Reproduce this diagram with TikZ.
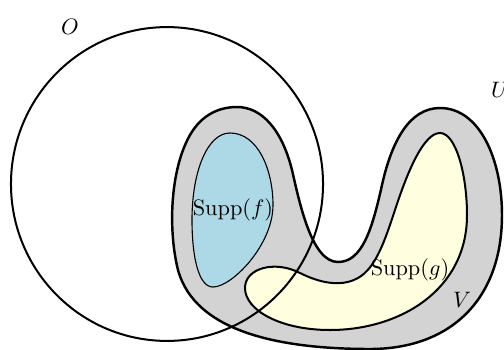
\documentclass[tikz,border=0pt]{standalone}
\usepackage{amsmath}
\usepackage{amssymb}
\usepackage{tikz}

\definecolor{vgray}{RGB}{211,211,211}
\definecolor{fblue}{RGB}{173,216,230}
\definecolor{gyellow}{RGB}{255,255,224}

\begin{document}
\begin{tikzpicture}[x=0.448pt,y=-0.448pt]
                \useasboundingbox (0,0) rectangle (504,349);
                % the set V
                \draw[line width=1.1pt, fill=vgray] (237,107)
                        .. controls (262,107) and (282,130) .. (292,170)
                        .. controls (300,205) and (312,262) .. (338,262)
                        .. controls (362,262) and (372,230) .. (382,185)
                        .. controls (392,140) and (410,108) .. (440,108)
                        .. controls (480,108) and (502,160) .. (502,215)
                        .. controls (502,300) and (450,349) .. (370,349)
                        .. controls (280,349) and (195,332) .. (178,270)
                        .. controls (168,230) and (170,170) .. (190,135)
                        .. controls (202,114) and (220,107) .. (237,107) -- cycle;
                % supports
                \draw[line width=0.5pt, fill=fblue] (230,133)
                        .. controls (258,133) and (273,170) .. (273,205)
                        .. controls (273,245) and (232,287) .. (213,287)
                        .. controls (198,287) and (192,255) .. (192,220)
                        .. controls (192,170) and (208,133) .. (230,133) -- cycle;
                \draw[line width=0.9pt, fill=gyellow] (440,133)
                        .. controls (456,133) and (467,175) .. (467,215)
                        .. controls (467,290) and (400,330) .. (330,330)
                        .. controls (280,330) and (245,310) .. (245,288)
                        .. controls (245,268) and (275,260) .. (300,273)
                        .. controls (318,282) and (340,288) .. (358,278)
                        .. controls (376,268) and (385,240) .. (395,210)
                        .. controls (408,170) and (424,133) .. (440,133) -- cycle;
                % the set O
                \draw[line width=0.9pt] (167,184) ellipse [x radius=69.9pt, y radius=70.3pt];
                \node (O) at (70,27) {\(O\)};
                \node (U) at (500,90) {\(U\)};
                \node (V) at (462,300) {\(V\)};
                \node (f) at (233,210) {\(\mathrm{Supp}(f)\)};
                \node (g) at (410,270) {\(\mathrm{Supp}(g)\)};
\end{tikzpicture}
\end{document}
